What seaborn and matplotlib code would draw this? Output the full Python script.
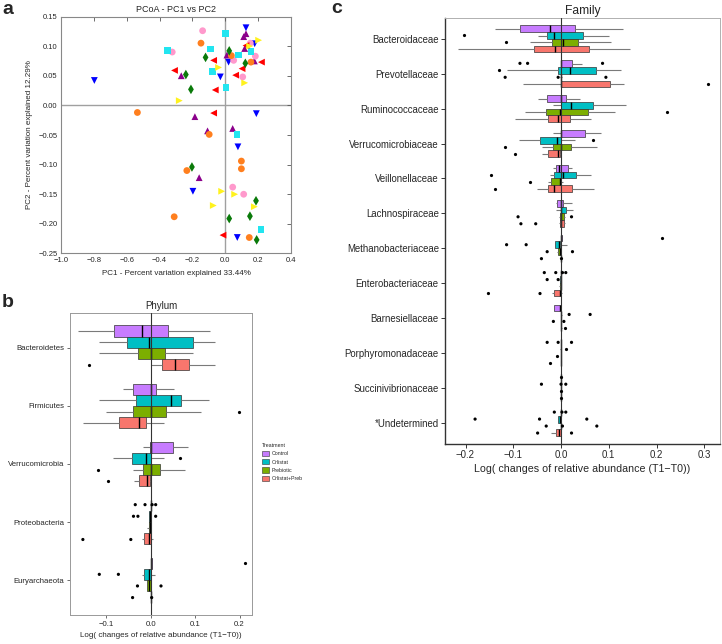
import numpy as np
import pandas as pd
import matplotlib
matplotlib.use('Agg')
import matplotlib.pyplot as plt
import seaborn as sns
from matplotlib.patches import Patch

sns.set_style('white')
plt.rcParams['font.family'] = ['Liberation Sans', 'DejaVu Sans']

### Panel a - PCoA coordinates (PC1, PC2) for each sample group

blue_pc1 = [-0.797, 0.126, 0.179, 0.020, -0.030, 0.189, 0.077, -0.197, 0.073]
blue_pc2 = [0.042, 0.131, 0.104, 0.073, 0.048, -0.014, -0.070, -0.145, -0.223]
purple_pc1 = [0.126, 0.112, 0.118, 0.010, 0.177, -0.268, -0.185, -0.108, 0.045, -0.159]
purple_pc2 = [0.121, 0.116, 0.096, 0.085, 0.075, 0.050, -0.019, -0.043, -0.039, -0.122]
pink_pc1 = [-0.138, -0.323, 0.051, 0.152, 0.183, 0.106, 0.045, 0.112]
pink_pc2 = [0.126, 0.090, 0.076, 0.105, 0.083, 0.048, -0.138, -0.150]
orange_pc1 = [-0.148, 0.037, 0.156, -0.535, -0.098, 0.098, 0.098, -0.234, -0.311, 0.146]
orange_pc2 = [0.105, 0.084, 0.073, -0.012, -0.049, -0.094, -0.107, -0.110, -0.188, -0.223]
cyan_pc1 = [0.000, -0.352, -0.091, 0.081, 0.156, -0.077, 0.004, 0.071, 0.217]
cyan_pc2 = [0.121, 0.092, 0.095, 0.085, 0.091, 0.057, 0.030, -0.049, -0.209]
red_pc1 = [-0.071, 0.126, 0.220, 0.102, 0.063, -0.309, -0.061, -0.071, -0.014]
red_pc2 = [0.076, 0.101, 0.073, 0.062, 0.051, 0.059, 0.026, -0.013, -0.219]
yellow_pc1 = [0.203, 0.148, -0.041, 0.118, -0.280, -0.022, 0.057, -0.073, 0.177]
yellow_pc2 = [0.110, 0.100, 0.064, 0.038, 0.008, -0.145, -0.150, -0.169, -0.171]
green_pc1 = [0.024, -0.120, 0.122, -0.240, -0.209, -0.203, 0.187, 0.024, 0.150, 0.191]
green_pc2 = [0.092, 0.081, 0.071, 0.052, 0.027, -0.104, -0.161, -0.191, -0.187, -0.227]

group_colors = {'blue': '#0000FF', 'purple': '#8B008B', 'pink': '#FF99CC', 'orange': '#FF7F1E',
                'cyan': '#22E5F0', 'red': '#FF0000', 'yellow': '#FFF21E', 'green': '#0A7A0A'}
group_markers = {'blue': 'v', 'purple': '^', 'pink': 'o', 'orange': 'o',
                 'cyan': 's', 'red': '<', 'yellow': '>', 'green': 'd'}

### Treatments (panels b and c)

treatments = ['Control', 'Orlistat', 'Prebiotic', 'Orlistat+Preb']
treatment_colors = ['#C77CFF', '#00BFC4', '#7CAE00', '#F8766D']

### Panel b - Phylum: box stats [lower whisker, Q1, median, Q3, upper whisker]

phyla = ['Bacteroidetes', 'Firmicutes', 'Verrucomicrobia', 'Proteobacteria', 'Euryarchaeota']

phy_control = [[-0.164, -0.083, -0.020, 0.038, 0.134], [-0.063, -0.041, 0.001, 0.012, 0.053],
               [-0.018, -0.002, 0.000, 0.050, 0.083], [-0.001, 0.000, 0.000, 0.0005, 0.001],
               [0.000, 0.000, 0.001, 0.002, 0.003]]
phy_orlistat = [[-0.116, -0.054, -0.005, 0.096, 0.145], [-0.116, -0.033, 0.046, 0.068, 0.131],
                [-0.086, -0.043, -0.011, 0.000, 0.030], [-0.005, -0.004, -0.002, 0.000, 0.001],
                [-0.020, -0.015, -0.005, 0.000, 0.010]]
phy_prebiotic = [[-0.116, -0.028, 0.000, 0.032, 0.096], [-0.101, -0.039, 0.001, 0.034, 0.113],
                 [-0.041, -0.017, 0.000, 0.021, 0.076], [-0.008, -0.005, -0.002, 0.000, 0.001],
                 [-0.009, -0.009, -0.003, 0.000, 0.000]]
phy_combined = [[0.000, 0.026, 0.055, 0.087, 0.145], [-0.153, -0.071, -0.026, -0.011, 0.030],
                [-0.038, -0.026, -0.008, -0.002, 0.000], [-0.020, -0.015, -0.003, 0.000, 0.004],
                [-0.001, 0.000, 0.000, 0.0005, 0.001]]

# outlying samples per phylum
phy_control_out = [[], [], [], [-0.035, -0.013, 0.003, 0.011], [0.212]]
phy_orlistat_out = [[], [], [0.066], [-0.039, -0.029, 0.011], [-0.116, -0.073]]
phy_prebiotic_out = [[], [0.198], [-0.118], [], [-0.030, 0.023]]
phy_combined_out = [[-0.140], [], [-0.097], [-0.153, -0.045], [-0.041, 0.002]]

### Panel c - Family: box stats [lower whisker, Q1, median, Q3, upper whisker]

families = ['Bacteroidaceae', 'Prevotellaceae', 'Ruminococcaceae', 'Verrucomicrobiaceae',
            'Veillonellaceae', 'Lachnospiraceae', 'Methanobacteriaceae', 'Enterobacteriaceae',
            'Barnesiellaceae', 'Porphyromonadaceae', 'Succinivibrionaceae', '*Undetermined']

zero = [0.0, 0.0, 0.0, 0.0, 0.0]
fam_control = [[-0.138, -0.086, -0.024, 0.029, 0.129], [0.000, 0.000, 0.001, 0.022, 0.043],
               [-0.049, -0.029, 0.000, 0.010, 0.040], [-0.016, 0.000, 0.001, 0.050, 0.083],
               [-0.016, -0.011, -0.005, 0.014, 0.022], [-0.011, -0.008, 0.000, 0.005, 0.022],
               [0.000, 0.000, 0.001, 0.002, 0.003], [-0.001, 0.000, 0.000, 0.0005, 0.001],
               [-0.014, -0.014, -0.002, -0.001, 0.001], zero, zero, zero]
fam_orlistat = [[-0.048, -0.030, -0.015, 0.047, 0.101], [-0.114, -0.007, 0.019, 0.073, 0.126],
                [-0.016, 0.000, 0.021, 0.066, 0.136], [-0.087, -0.043, -0.009, 0.000, 0.029],
                [-0.023, -0.015, 0.005, 0.031, 0.063], [-0.011, 0.000, 0.001, 0.010, 0.026],
                [-0.013, -0.013, -0.004, -0.002, 0.012], [-0.004, -0.003, -0.001, 0.000, 0.001],
                [-0.001, 0.000, 0.000, 0.001, 0.002], [-0.002, -0.001, 0.000, 0.000, 0.001],
                zero, [-0.006, -0.006, -0.003, 0.000, 0.000]]
fam_prebiotic = [[-0.066, -0.018, 0.005, 0.036, 0.105], [-0.003, -0.001, 0.000, 0.001, 0.003],
                 [-0.076, -0.032, -0.002, 0.057, 0.113], [-0.039, -0.016, 0.000, 0.021, 0.076],
                 [-0.027, -0.022, -0.003, 0.000, 0.005], [-0.004, -0.003, 0.000, 0.006, 0.008],
                 [-0.008, -0.007, -0.002, -0.001, 0.000], [-0.004, -0.003, -0.001, 0.000, 0.000],
                 [-0.001, 0.000, 0.000, 0.0005, 0.001], zero, zero, zero]
fam_combined = [[-0.215, -0.056, -0.013, 0.058, 0.145], [-0.080, 0.001, 0.001, 0.103, 0.131],
                [-0.097, -0.028, -0.006, 0.019, 0.063], [-0.039, -0.027, -0.007, -0.002, 0.000],
                [-0.051, -0.028, -0.015, 0.022, 0.069], [-0.004, -0.003, 0.000, 0.006, 0.008],
                [-0.001, 0.000, 0.000, 0.0005, 0.001], [-0.018, -0.014, -0.003, -0.001, 0.002],
                [0.000, 0.000, 0.000, 0.001, 0.002], zero, zero, [-0.020, -0.011, -0.005, 0.000, 0.000]]

fam_control_out = [[], [-0.086, -0.070, 0.087], [], [], [], [], [0.211],
                   [-0.035, -0.011, 0.003, 0.010], [], [-0.029, -0.006, 0.022], [0.0],
                   [-0.014, 0.002, 0.010]]
fam_orlistat_out = [[-0.204], [-0.129], [], [0.066], [-0.147], [], [-0.114, -0.073],
                    [-0.029, -0.006], [0.017, 0.061], [0.010], [-0.041, 0.0, 0.010],
                    [-0.180, -0.045, 0.054]]
fam_prebiotic_out = [[-0.115], [-0.117, -0.006, 0.094], [0.223], [-0.117], [-0.064],
                     [-0.090, 0.022], [-0.029, 0.024], [], [-0.016, 0.006], [-0.009], [0.0],
                     [-0.031, 0.003, 0.075]]
fam_combined_out = [[], [0.308], [], [-0.096], [-0.138], [-0.084, -0.053], [-0.041, 0.001],
                    [-0.152, -0.044], [0.008], [-0.023], [0.0], [-0.049, 0.022]]


def long_tables(taxa, stats, outliers):
    box_rows, out_rows = [], []
    for trt, trt_stats, trt_out in zip(treatments, stats, outliers):
        for taxon, five, pts in zip(taxa, trt_stats, trt_out):
            box_rows += [(taxon, trt, v) for v in five]
            out_rows += [(taxon, trt, v) for v in pts]
    cols = ['taxon', 'treatment', 'value']
    return pd.DataFrame(box_rows, columns=cols), pd.DataFrame(out_rows, columns=cols)


def draw_boxes(ax, taxa, boxes, points):
    sns.boxplot(data=boxes, x='value', y='taxon', hue='treatment', order=taxa,
                hue_order=treatments, palette=treatment_colors, whis=(0, 100), width=0.77,
                gap=0, showcaps=False, saturation=1, linecolor='#333333', linewidth=0.5,
                medianprops=dict(color='black', linewidth=1.0),
                whiskerprops=dict(color='#7a7a7a', linewidth=0.8), legend=False, ax=ax)
    sns.stripplot(data=points, x='value', y='taxon', hue='treatment', order=taxa,
                  hue_order=treatments, palette=dict(zip(treatments, ['black'] * 4)),
                  dodge=True, jitter=False, size=2.3, linewidth=0, legend=False, ax=ax, zorder=5)
    ax.axvline(0, color='#333333', lw=0.8, zorder=4)
    # ggplot-like discrete padding of 0.6 on each side
    ax.set_ylim(len(taxa) - 1 + 0.6, -0.6)
    ax.set_ylabel('')


fig = plt.figure(figsize=(7.22, 6.44), dpi=100)

### Panel a

pcoa = pd.DataFrame({
    'pc1': blue_pc1 + purple_pc1 + pink_pc1 + orange_pc1 + cyan_pc1 + red_pc1 + yellow_pc1 + green_pc1,
    'pc2': blue_pc2 + purple_pc2 + pink_pc2 + orange_pc2 + cyan_pc2 + red_pc2 + yellow_pc2 + green_pc2,
    'group': (['blue'] * len(blue_pc1) + ['purple'] * len(purple_pc1) + ['pink'] * len(pink_pc1)
              + ['orange'] * len(orange_pc1) + ['cyan'] * len(cyan_pc1) + ['red'] * len(red_pc1)
              + ['yellow'] * len(yellow_pc1) + ['green'] * len(green_pc1)),
})

ax_a = fig.add_axes([61 / 722, 1 - 253.5 / 644, 230 / 722, 237 / 644])
ax_a.axhline(0, color='#a0a0a0', lw=1.0, zorder=0)
ax_a.axvline(0, color='#a0a0a0', lw=1.0, zorder=0)
sns.scatterplot(data=pcoa, x='pc1', y='pc2', hue='group', style='group', palette=group_colors,
                markers=group_markers, s=24, linewidth=0, legend=False, ax=ax_a, zorder=3)
ax_a.set_xlim(-1.0, 0.4)
ax_a.set_ylim(-0.25, 0.15)
ax_a.set_xticks(np.arange(-1.0, 0.41, 0.2))
ax_a.set_yticks(np.arange(-0.25, 0.151, 0.05))
ax_a.tick_params(direction='in', top=True, right=True, length=3, width=0.6, color='#555555',
                 labelsize=5.5, pad=2.5)
for s in ax_a.spines.values():
    s.set_color('#888888')
    s.set_linewidth(0.8)
ax_a.set_title('PCoA - PC1 vs PC2', fontsize=6.5, pad=3)
ax_a.set_xlabel('PC1 - Percent variation explained 33.44%', fontsize=5.8, labelpad=4)
ax_a.set_ylabel('PC2 - Percent variation explained 12.29%', fontsize=5.8, labelpad=4)

### Panel b

phy_boxes, phy_points = long_tables(
    phyla, [phy_control, phy_orlistat, phy_prebiotic, phy_combined],
    [phy_control_out, phy_orlistat_out, phy_prebiotic_out, phy_combined_out])

ax_b = fig.add_axes([70 / 722, 1 - 615 / 644, 182 / 722, 302 / 644])
draw_boxes(ax_b, phyla, phy_boxes, phy_points)
ax_b.set_xlim(-0.182, 0.228)
ax_b.set_xticks([-0.1, 0.0, 0.1, 0.2])
ax_b.tick_params(axis='both', direction='out', length=2.5, width=0.6, color='#555555',
                 labelsize=5.6, pad=1.5, left=True, bottom=True)
for s in ax_b.spines.values():
    s.set_color('#999999')
    s.set_linewidth(0.7)
ax_b.set_title('Phylum', fontsize=7, pad=3)
ax_b.set_xlabel('Log( changes of relative abundance (T1\u2212T0))', fontsize=5.8, labelpad=3)

handles = [Patch(facecolor=c, edgecolor='#333333', linewidth=0.4, label=t)
           for t, c in zip(treatments, treatment_colors)]
ax_b.legend(handles=handles, title='Treatment', loc='upper left', frameon=False,
            bbox_to_anchor=(260 / 722, 1 - 441 / 644), bbox_transform=fig.transFigure,
            fontsize=3.8, title_fontsize=3.8, handlelength=1.3, handleheight=1.1,
            labelspacing=0.55, handletextpad=0.5, alignment='left', borderaxespad=0)

### Panel c

fam_boxes, fam_points = long_tables(
    families, [fam_control, fam_orlistat, fam_prebiotic, fam_combined],
    [fam_control_out, fam_orlistat_out, fam_prebiotic_out, fam_combined_out])

ax_c = fig.add_axes([445 / 722, 1 - 443.5 / 644, 275 / 722, 425.5 / 644])
draw_boxes(ax_c, families, fam_boxes, fam_points)
ax_c.set_xlim(-0.243, 0.333)
ax_c.set_xticks([-0.2, -0.1, 0.0, 0.1, 0.2, 0.3])
ax_c.tick_params(axis='both', direction='out', length=3, width=0.7, color='#333333',
                 labelsize=6.9, pad=1.5, left=True, bottom=True)
for name, s in ax_c.spines.items():
    s.set_color('#333333' if name in ('left', 'bottom') else '#b0b0b0')
    s.set_linewidth(1.0 if name in ('left', 'bottom') else 0.7)
ax_c.set_title('Family', fontsize=8.7, pad=3)
ax_c.set_xlabel('Log( changes of relative abundance (T1\u2212T0))', fontsize=7.7, labelpad=3)

### Panel letters

fig.text(2 / 722, 1 - 1 / 644, 'a', fontsize=14, fontweight='bold', va='top')
fig.text(2 / 722, 1 - 294 / 644, 'b', fontsize=14, fontweight='bold', va='top')
fig.text(331 / 722, 1 - 0 / 644, 'c', fontsize=14, fontweight='bold', va='top')

fig.savefig('out.png', dpi=100)
